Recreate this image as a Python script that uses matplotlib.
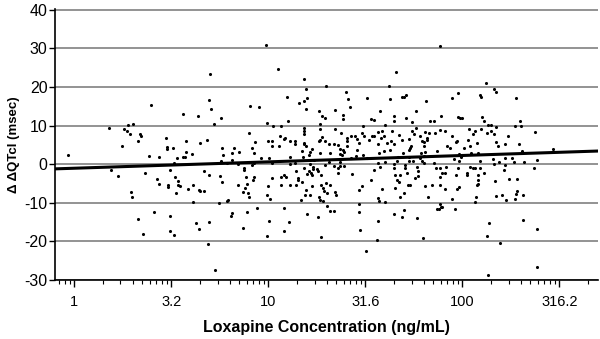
import numpy as np
import matplotlib.pyplot as plt
from matplotlib.ticker import FixedLocator, NullFormatter

# concentrations (ng/mL) and ddQTc (msec), grouped by region
conc_low = [5.04, 2.48, 4.93, 5.07, 3.62, 4.36, 5.72, 5.27, 1.52, 1.80,
            1.90, 2.0, 1.87, 1.93, 2.19, 2.22, 2.13, 1.77, 2.98, 3.02,
            3.02, 3.24, 3.75, 4.46, 4.85, 0.93, 2.44, 2.73, 3.40, 3.64,
            3.73, 3.79, 4.07, 5.8, 5.87, 5.7, 3.26,
            1.54, 1.69, 2.32, 3.10, 2.66, 2.72, 3.04, 3.04, 3.32, 3.41,
            3.43, 3.53, 3.33, 1.96, 1.98, 3.88, 4.09, 4.4, 4.46, 4.67,
            4.67, 4.96, 5.63, 5.81, 4.11, 5.6, 6.1, 6.2, 2.59, 2.14,
            3.12, 4.24, 4.96, 4.4, 3.11, 3.28, 2.26, 4.88, 5.3]
dq_low = [23.4, 15.3, 16.7, 14.4, 13.1, 12.5, 12.0, 10.3, 9.4, 9.0,
          10.1, 10.3, 8.5, 7.8, 7.7, 7.2, 5.9, 4.8, 6.7, 4.5,
          4.0, 4.2, 6.0, 5.6, 6.3, 2.5, 2.1, 1.8, 1.6, 1.9,
          1.9, 3.2, 2.6, 4.1, 2.3, 0.9, 0.4,
          -1.6, -3.1, -2.2, -1.5, -3.8, -5.2, -5.3, -6.0, -3.4, -4.3,
          -5.3, -5.6, -7.4, -7.3, -8.6, -6.4, -5.5, -6.6, -7.0, -7.0,
          -1.8, -2.7, -3.0, -4.7, -9.9, -10.0, -9.6, -9.2, -12.3, -14.1,
          -13.4, -15.2, -15.1, -16.9, -17.3, -18.4, -18.2, -20.8, -27.3]

conc_mid = [9.72, 11.2, 15.3, 15.7, 19.8, 12.5, 14.4, 15.3, 15.9, 15.6,
            8.1, 9.0, 25.1, 25.8, 26.4, 22.0, 18.2, 19.0, 19.7, 24.2,
            24.2, 32.4, 41.7, 42.5, 37.9, 33.7, 35.2, 44.3, 44.3, 12.7,
            9.9, 10.6, 11.7, 15.2, 15.2, 15.3, 18.4, 18.4, 22.0, 23.8,
            30.8, 40.1, 8.0, 8.5, 8.2, 8.4, 6.7, 6.5, 7.1, 6.5,
            9.95, 10.4, 10.4, 11.5, 12.0, 12.2, 12.9, 13.7, 13.7, 12.9,
            15.0, 15.3, 15.3, 15.7, 16.5, 16.9, 16.3, 15.1, 10.1, 18.2,
            18.4, 18.9, 19.6, 20.5, 18.5, 17.3, 21.9, 22.9, 23.5, 24.2,
            24.6, 23.4, 24.0, 25.4, 25.5, 25.6, 26.7, 27.9, 28.6, 29.4,
            28.6, 30.4, 31.3, 33.1, 34.2, 35.2, 36.7, 38.5, 38.2, 39.6,
            37.0, 40.8, 42.2, 39.7, 37.2, 42.8, 30.8, 32.2, 28.3, 26.7,
            9.2, 8.4, 11.3, 20.8,
            7.46, 7.5, 7.67, 8.4, 8.3, 7.0, 7.8, 7.6, 7.4, 7.9,
            8.0, 6.5, 6.4, 7.8, 8.8, 7.4, 10.1, 9.9, 12.1, 12.8,
            12.1, 10.4, 10.0, 9.9, 10.2, 11.6, 11.7, 12.0, 12.4, 12.9,
            13.9, 14.2, 14.3, 13.9, 14.9, 15.3, 15.9, 16.3, 16.6, 17.0,
            17.0, 16.9, 17.9, 18.1, 18.7, 16.8, 15.7, 15.5, 16.4, 14.7,
            18.2, 18.5, 19.2, 18.8, 19.1, 19.4, 19.9, 20.2, 20.9, 22.1,
            22.4, 20.1, 20.8, 21.9, 15.9, 18.1, 18.6, 19.6, 21.9, 23.0,
            23.5, 24.7, 22.8, 27.0, 30.6, 29.2, 29.3, 29.2, 29.6, 31.8,
            36.6, 36.4, 34.0, 35.0, 37.8, 38.5, 36.6, 37.3, 40.1,
            6.1, 7.0, 8.2, 10.4, 13.0, 13.7, 16.4, 20.5, 23.5, 37.0, 40.1]
dq_mid = [30.8, 24.7, 22.1, 19.5, 20.3, 17.5, 15.9, 16.4, 17.2, 14.4,
          15.0, 14.7, 18.8, 16.9, 14.7, 14.1, 13.9, 12.6, 12.0, 12.8,
          11.7, 17.2, 20.2, 16.8, 13.7, 11.8, 11.4, 12.4, 11.3, 11.2,
          10.6, 10.0, 10.0, 9.4, 8.5, 7.7, 10.3, 9.1, 9.0, 8.0,
          10.0, 10.2, 8.0, 5.8, 4.1, 2.9, 4.3, 3.0, 3.1, 1.2,
          5.9, 5.9, 4.7, 7.4, 6.6, 6.8, 5.9, 5.9, 5.2, 1.8,
          3.4, 5.5, 5.1, 4.6, 3.1, 3.9, 2.4, 1.8, 1.7, 5.9,
          6.2, 7.0, 6.0, 5.1, 2.8, 1.1, 5.3, 5.0, 4.0, 3.6,
          3.1, 2.7, 2.4, 6.9, 5.9, 4.8, 7.2, 7.4, 6.6, 5.4,
          3.8, 8.1, 7.4, 6.2, 7.4, 7.2, 8.4, 8.7, 6.9, 7.2,
          5.2, 5.5, 3.7, 3.4, 2.8, 6.1, 2.4, 1.6, 2.1, 1.6,
          1.5, 0.4, 4.8, 2.8,
          -0.9, -1.5, -3.4, -3.4, -4.2, -5.3, -5.1, -6.1, -7.2, -7.5,
          -8.4, -12.7, -13.3, -12.5, -11.4, -16.6, -14.7, -18.5, -11.3, -15.0,
          -17.2, -3.6, -5.6, -8.0, -9.0, -5.4, -3.2, -2.9, -3.2, -5.3,
          -1.8, -3.5, -4.0, -5.3, -4.7, -0.9, -2.5, -1.8, -2.3, -0.8,
          -1.3, -2.8, -1.3, -1.8, -2.7, -5.6, -6.6, -8.1, -7.9, -9.2,
          -8.5, -9.2, -9.5, -5.5, -6.1, -6.9, -5.0, -7.4, -5.5, -7.2,
          -8.1, -10.9, -12.1, -12.0, -12.9, -13.6, -18.8, -0.3, -0.4, -1.1,
          -0.5, -0.5, -2.2, -2.5, -5.6, -6.8, -10.4, -12.4, -17.0, -22.6,
          -14.7, -19.7, -4.0, -1.4, -0.8, -6.3, -8.7, -9.5, -9.8,
          0.3, 0.1, -0.1, 0.3, 0.1, 0.3, 0.1, 0.5, 0.5, 0.3, 0.5]

conc_high = [76.4, 45.5, 133, 145, 149, 48.7, 49.9, 51.4, 65.1, 88.5,
             95.0, 123, 125, 190, 57.9, 51.4, 55.2, 68.4, 71.8, 77.6,
             95.4, 97.3, 100, 127, 129, 135, 141, 199, 201, 188,
             43.2, 47.2, 57.5, 55.1, 56.1, 60.8, 64.4, 67.1, 65.8, 66.2,
             72.1, 76.4, 81.8, 88.5, 94.0, 108, 114, 117, 125, 134,
             140, 150, 146, 150, 152, 173, 166, 195, 204, 238,
             292, 44.3, 48.9, 52.9, 54.5, 53.7, 49.4, 52.9, 61.9, 63.2,
             63.2, 61.2, 64.3, 74.1, 83.4, 86.1, 93.1, 101.6, 107, 109,
             119, 111, 120, 95.8, 99.6, 46.8, 53.3, 60.8, 63.7, 46.0,
             55.5, 61.9, 63.7, 71.8, 90.2, 98.4, 123, 144, 154, 167,
             184, 244, 207, 180,
             44.7, 45.2, 48.0, 51.7, 50.8, 46.0, 47.3, 45.0, 50.1, 48.0,
             52.3, 53.6, 57.0, 59.3, 58.9, 58.2, 64.0, 66.3, 69.5, 73.1,
             76.4, 77.0, 78.6, 81.1, 77.0, 81.8, 82.1, 88.2, 93.1, 94.6,
             93.5, 96.1, 106, 106, 109, 114, 117, 121, 120, 119,
             121, 124, 130, 118, 117, 148, 150, 160, 164, 169,
             175, 191, 191, 190, 188, 205, 233, 76.4, 77.6, 74.1,
             75.5, 78.6, 91.6, 44.7, 49.9, 48.9, 58.4, 62.7, 137, 134,
             157, 205, 242, 242, 135,
             44.7, 50.8, 52.9, 95.9, 145, 167]
dq_high = [30.6, 24.0, 21.0, 19.4, 18.8, 17.5, 17.3, 17.9, 16.3, 17.1,
           18.4, 17.8, 17.3, 17.1, 13.8, 12.0, 11.0, 11.1, 11.2, 12.5,
           12.3, 11.9, 11.9, 12.3, 11.2, 10.2, 10.2, 11.2, 10.0, 10.0,
           8.6, 7.6, 9.4, 8.6, 7.8, 7.3, 8.3, 8.1, 6.8, 6.3,
           8.0, 8.9, 8.6, 7.4, 6.0, 9.1, 7.8, 8.7, 9.0, 8.2,
           8.7, 9.5, 7.7, 5.8, 4.7, 7.3, 5.3, 5.2, 3.5, 8.4,
           4.0, 5.3, 6.2, 6.6, 4.7, 4.2, 2.9, 3.7, 6.0, 5.7,
           4.8, 2.9, 3.1, 3.4, 4.8, 4.1, 5.7, 4.2, 6.3, 4.8,
           5.4, 2.9, 2.8, 2.6, 2.5, 1.9, 1.9, 1.6, 2.2, 0.9,
           0.9, 0.9, 0.3, 0.3, 1.4, 1.9, 0.9, 1.4, 0.5, 1.6,
           0.5, 1.0, 0.5, 1.6,
           -1.1, -2.9, -2.8, -2.2, -0.9, -4.2, -4.5, -6.2, -7.4, -8.5,
           -5.5, -5.5, -3.6, -3.1, -1.8, -0.8, -5.7, -8.4, -5.5, -1.1,
           -0.9, -3.2, -2.2, -2.2, -5.5, -6.4, -0.8, -9.1, -2.7, -1.1,
           -6.3, -5.9, -2.3, -2.8, -0.7, -0.9, -0.9, -2.7, -4.2, -5.3,
           -5.2, -0.9, -2.2, -8.5, -9.9, -4.4, -8.2, -8.1, -1.6, -9.4,
           -3.9, -3.8, -7.0, -7.8, -9.0, -8.1, -0.9, -10.3, -11.1, -11.6,
           -11.5, -11.2, -11.5, -12.8, -11.8, -13.7, -14.0, -19.2, -15.2, -18.5,
           -20.5, -14.5, -16.7, -26.6, -28.7,
           0.1, -0.3, 0.7, 0.7, 0.1, -0.1]

# fitted line: ddQTc = intercept + slope * log10(conc)
intercept = -1.05
slope = 1.65

tick_pos = [1, 10 ** 0.5, 10, 10 ** 1.5, 100, 10 ** 2.5]
tick_labels = ['1', '3.2', '10', '31.6', '100', '316.2']

plt.rcParams['font.family'] = ['Liberation Sans', 'DejaVu Sans']
plt.rcParams['axes.unicode_minus'] = False

conc = np.array(conc_low + conc_mid + conc_high)
dq = np.array(dq_low + dq_mid + dq_high)

fig = plt.figure(figsize=(6, 3.39), dpi=100)
ax = fig.add_axes([0.092, 0.174, 0.905, 0.799])

xmin, xmax = 0.798, 502
ax.scatter(conc, dq, s=5, c='black', linewidths=0, zorder=3)
xs = np.array([xmin, xmax])
ax.plot(xs, intercept + slope * np.log10(xs), color='black', lw=2.2, zorder=4)

ax.set_xscale('log')
ax.set_xlim(xmin, xmax)
ax.set_ylim(-30, 40.15)

ax.set_yticks(range(-30, 41, 10))
ax.yaxis.grid(True, color='#8a8a8a', lw=1.3)
ax.set_axisbelow(True)

ax.set_xticks(tick_pos)
ax.set_xticklabels(tick_labels)
minor = []
for n in range(-2, 6):
    for k in range(2, 10):
        p = 10 ** (n / 2) * np.sqrt(k)
        if xmin < p < xmax:
            minor.append(p)
ax.xaxis.set_minor_locator(FixedLocator(minor))
ax.xaxis.set_minor_formatter(NullFormatter())

ax.tick_params(axis='x', which='major', length=5, width=1, labelsize=10.5, pad=6)
ax.tick_params(axis='x', which='minor', length=3, width=0.8)
ax.tick_params(axis='y', which='major', length=4, width=1, labelsize=11.5, pad=1.5)

for s in ['top', 'right']:
    ax.spines[s].set_visible(False)
for s in ['left', 'bottom']:
    ax.spines[s].set_linewidth(1.2)
    ax.spines[s].set_color('black')

ax.set_xlabel('Loxapine Concentration (ng/mL)', fontsize=11.5, fontweight='bold', labelpad=8)
ax.set_ylabel('Δ ΔQTcl (msec)', fontsize=9.5, fontweight='bold', labelpad=3)

fig.savefig('out.png', dpi=100)
